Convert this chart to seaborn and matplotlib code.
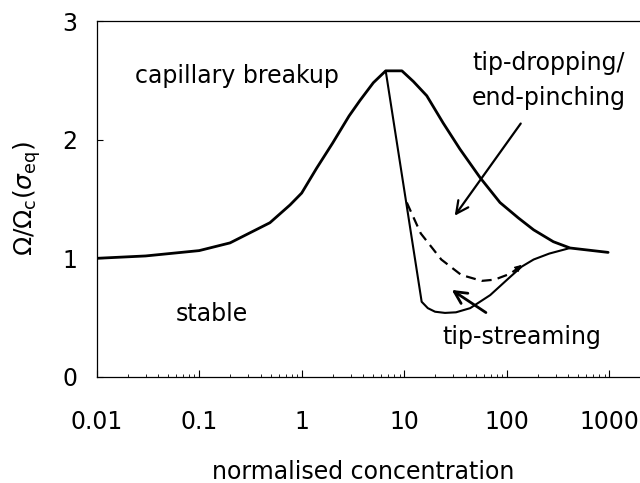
import numpy as np
import matplotlib
matplotlib.use("Agg")
import matplotlib.pyplot as plt
import seaborn as sns

sns.set_style("ticks")
plt.rcParams.update({
    'font.family': 'DejaVu Sans',
    'mathtext.fontset': 'dejavusans',
    'axes.unicode_minus': False,
    'text.color': 'black',
    'axes.labelcolor': 'black',
    'xtick.color': 'black',
    'ytick.color': 'black',
    'axes.edgecolor': 'black',
})

# ---- data ----
# outer boundary (solid, thick)
main_x = [0.01, 0.03, 0.1, 0.2, 0.49, 0.77, 1.0, 1.4, 2.0, 2.9, 3.7, 5.0, 6.6, 9.5,
          12.3, 16.6, 24, 35, 55, 86, 130, 183, 285, 415, 975]
main_y = [1.0, 1.02, 1.065, 1.13, 1.30, 1.45, 1.55, 1.76, 1.97, 2.20, 2.33, 2.48, 2.58, 2.58,
          2.49, 2.37, 2.14, 1.92, 1.68, 1.47, 1.34, 1.24, 1.14, 1.087, 1.05]

# tip-streaming boundary (solid, thinner)
low_x = [6.6, 14.8, 17, 20, 25, 32, 44, 69, 107, 140, 183, 260, 415]
low_y = [2.58, 0.634, 0.58, 0.55, 0.54, 0.545, 0.58, 0.69, 0.84, 0.93, 0.99, 1.04, 1.087]

# dashed boundary
dash_x = [10.6, 14.5, 23, 36, 57, 76, 108, 135]
dash_y = [1.47, 1.21, 0.99, 0.86, 0.81, 0.82, 0.87, 0.93]

x_ticks = [0.01, 0.1, 1, 10, 100, 1000]
x_tick_labels = ['0.01', '0.1', '1', '10', '100', '1000']
y_ticks = [0, 1, 2, 3]

FS = 17

fig = plt.figure(figsize=(6.4, 4.83), dpi=100)
ax = fig.add_axes([0.151, 0.2195, 0.849, 0.737])

sns.lineplot(x=main_x, y=main_y, ax=ax, color='black', lw=2.0,
             estimator=None, sort=False)
sns.lineplot(x=low_x, y=low_y, ax=ax, color='black', lw=1.5,
             estimator=None, sort=False)
sns.lineplot(x=dash_x, y=dash_y, ax=ax, color='black', lw=1.6,
             estimator=None, sort=False, linestyle=(0, (4.5, 2.8)))

ax.set_xscale('log')
ax.set_xlim(0.01, 10 ** 3.30)
ax.set_ylim(0, 3)
ax.set_xticks(x_ticks)
ax.set_xticklabels(x_tick_labels)
ax.set_yticks(y_ticks)

ax.tick_params(axis='x', which='major', direction='in', length=5, width=0.8,
               pad=24, labelsize=FS)
ax.tick_params(axis='x', which='minor', direction='in', length=2.5, width=0.6)
ax.tick_params(axis='y', which='major', direction='in', length=4, width=0.8,
               pad=14, labelsize=FS)
for s in ['left', 'bottom', 'top']:
    ax.spines[s].set_linewidth(0.9)
ax.spines['right'].set_visible(False)

ax.set_xlabel('normalised concentration', fontsize=FS)
ax.xaxis.set_label_coords(0.49, -0.287)
ax.xaxis.label.set_va('baseline')
ax.set_ylabel(r'$\Omega/\Omega_\mathrm{c}(\sigma_\mathrm{eq})$', fontsize=FS + 1)
ax.yaxis.set_label_coords(-0.128, 0.5)
ax.yaxis.label.set_va('center')

# region labels
ax.text(0.234, 2.535, 'capillary breakup', fontsize=FS, ha='center', va='center')
ax.text(259, 2.65, 'tip-dropping/', fontsize=FS, ha='center', va='center')
ax.text(259, 2.35, 'end-pinching', fontsize=FS, ha='center', va='center')
ax.text(0.133, 0.535, 'stable', fontsize=FS, ha='center', va='center')
ax.text(140, 0.338, 'tip-streaming', fontsize=FS, ha='center', va='center')

# arrows
ax.annotate('', xy=(30, 1.34), xytext=(142, 2.155),
            arrowprops=dict(arrowstyle='->', color='black', lw=1.6,
                            mutation_scale=22))
ax.annotate('', xy=(27.6, 0.747), xytext=(66, 0.53),
            arrowprops=dict(arrowstyle='->', color='black', lw=2.0,
                            mutation_scale=22))
ax.annotate('', xy=(dash_x[-1] * 1.08, dash_y[-1] + 0.03),
            xytext=(dash_x[-1] * 0.9, dash_y[-1] - 0.03),
            arrowprops=dict(arrowstyle='-|>', color='black', lw=0.8,
                            mutation_scale=10))

fig.savefig('out.png', dpi=100)
